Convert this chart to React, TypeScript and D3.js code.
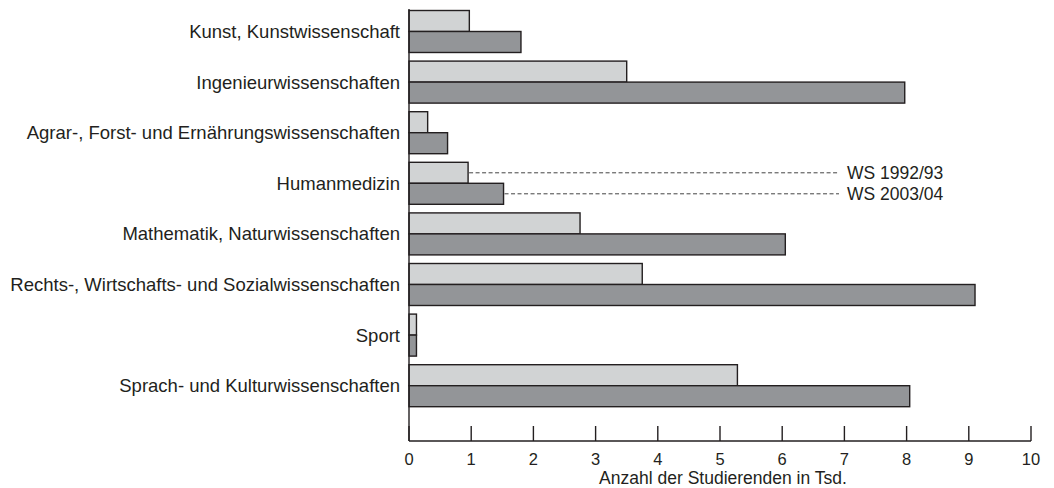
import React from 'react'
import { scaleLinear, scaleBand } from 'd3'

const categories = [
  'Kunst, Kunstwissenschaft',
  'Ingenieurwissenschaften',
  'Agrar-, Forst- und Ernährungswissenschaften',
  'Humanmedizin',
  'Mathematik, Naturwissenschaften',
  'Rechts-, Wirtschafts- und Sozialwissenschaften',
  'Sport',
  'Sprach- und Kulturwissenschaften',
]
const ws1992 = [0.97, 3.5, 0.3, 0.95, 2.75, 3.75, 0.12, 5.28]
const ws2003 = [1.8, 7.97, 0.62, 1.52, 6.05, 9.1, 0.12, 8.05]
const seriesNames = ['WS 1992/93', 'WS 2003/04']
const xTicks = [0, 1, 2, 3, 4, 5, 6, 7, 8, 9, 10]
const xTitle = 'Anzahl der Studierenden in Tsd.'
const annotated = 'Humanmedizin'

const App = () => {
  const width = 1054
  const height = 488
  const left = 409
  const right = 1031
  const axisY = 441
  const font = '"Liberation Sans", Arial, sans-serif'
  const ink = '#231f20'
  const colors = ['#d1d3d4', '#939598']

  const xScale = scaleLinear().domain([0, 10]).range([left, right])
  const yScale = scaleBand<string>()
    .domain(categories)
    .range([6.2, 411])
    .paddingInner(0.17)
    .paddingOuter(0.085)
  const sub = scaleBand<string>()
    .domain(seriesNames)
    .range([0, yScale.bandwidth()])

  const series = [ws1992, ws2003]
  const ai = categories.indexOf(annotated)

  return (
    <svg width={width} height={height} style={{ position: 'absolute', left: 0, top: 0, background: '#fff' }}>
      {categories.map((c, i) => (
        <g key={c}>
          <text
            x={left - 9}
            y={(yScale(c) as number) + yScale.bandwidth() / 2}
            textAnchor='end'
            dominantBaseline='central'
            fontFamily={font}
            fontSize={18.5}
            fill={ink}
          >{c}</text>
          {series.map((s, j) => (
            <rect
              key={j}
              x={xScale(0)}
              y={(yScale(c) as number) + (sub(seriesNames[j]) as number)}
              width={xScale(s[i]) - xScale(0)}
              height={sub.bandwidth()}
              fill={colors[j]}
              stroke={ink}
              strokeWidth={1.4}
            />
          ))}
        </g>
      ))}

      {/* legend via dashed leaders from Humanmedizin bars */}
      {series.map((s, j) => {
        const y = (yScale(annotated) as number) + (sub(seriesNames[j]) as number) + sub.bandwidth() / 2
        return (
          <g key={seriesNames[j]}>
            <line x1={xScale(s[ai]) + 1} x2={839} y1={y} y2={y} stroke='#444' strokeWidth={1} strokeDasharray='4,2.5' />
            <text x={847} y={y} dominantBaseline='central' fontFamily={font} fontSize={17.5} fill={ink}>{seriesNames[j]}</text>
          </g>
        )
      })}

      <line x1={left} x2={left} y1={9} y2={axisY} stroke={ink} strokeWidth={1.4} />
      <line x1={left} x2={right} y1={axisY} y2={axisY} stroke={ink} strokeWidth={1.4} />
      {xTicks.map(t => (
        <g key={t} transform={`translate(${xScale(t)},${axisY})`}>
          <line y1={-15} y2={0} stroke={ink} strokeWidth={1.4} />
          <text y={17.5} textAnchor='middle' dominantBaseline='central' fontFamily={font} fontSize={16.5} fill={ink}>{t}</text>
        </g>
      ))}
      <text x={(left + right) / 2 + 3} y={477.5} textAnchor='middle' dominantBaseline='central' fontFamily={font} fontSize={17.5} fill={ink}>{xTitle}</text>
    </svg>
  )
}

export default App
